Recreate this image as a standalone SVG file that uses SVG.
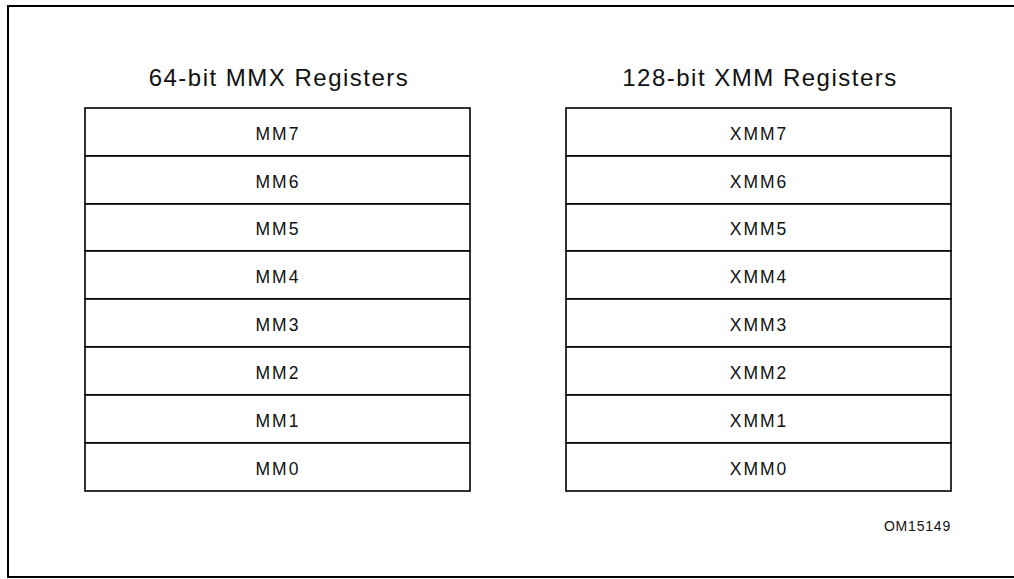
<svg xmlns="http://www.w3.org/2000/svg" width="1014" height="579" viewBox="0 0 1014 579">
<style>
.frame{fill:none;stroke:#000;stroke-width:2}
.reg{fill:#fff;stroke:#000;stroke-width:1.6}
.title{font-family:"Liberation Sans",Arial,sans-serif;font-size:24px;letter-spacing:1.5px;fill:#111;text-anchor:middle}
.lbl{font-family:"Liberation Sans",Arial,sans-serif;font-size:17.5px;letter-spacing:2px;fill:#111;text-anchor:middle}
.id{font-family:"Liberation Sans",Arial,sans-serif;font-size:14px;letter-spacing:0.8px;fill:#111;text-anchor:end}
</style>
<rect width="1014" height="579" fill="#fff"/>
<path class="frame" d="M1014,6 H8 V577 H1014"/>
<g id="mmx">
<text class="title" x="279" y="86">64-bit MMX Registers</text>
<g id="mm7"><rect class="reg" x="85" y="108" width="385" height="48"/><text class="lbl" x="278" y="140">MM7</text></g>
<g id="mm6"><rect class="reg" x="85" y="156" width="385" height="48"/><text class="lbl" x="278" y="188">MM6</text></g>
<g id="mm5"><rect class="reg" x="85" y="204" width="385" height="47"/><text class="lbl" x="278" y="235">MM5</text></g>
<g id="mm4"><rect class="reg" x="85" y="251" width="385" height="48"/><text class="lbl" x="278" y="283">MM4</text></g>
<g id="mm3"><rect class="reg" x="85" y="299" width="385" height="48"/><text class="lbl" x="278" y="331">MM3</text></g>
<g id="mm2"><rect class="reg" x="85" y="347" width="385" height="48"/><text class="lbl" x="278" y="379">MM2</text></g>
<g id="mm1"><rect class="reg" x="85" y="395" width="385" height="48"/><text class="lbl" x="278" y="427">MM1</text></g>
<g id="mm0"><rect class="reg" x="85" y="443" width="385" height="48"/><text class="lbl" x="278" y="475">MM0</text></g>
</g>
<g id="xmm">
<text class="title" x="760" y="86">128-bit XMM Registers</text>
<g id="xmm7"><rect class="reg" x="566" y="108" width="385" height="48"/><text class="lbl" x="759" y="140">XMM7</text></g>
<g id="xmm6"><rect class="reg" x="566" y="156" width="385" height="48"/><text class="lbl" x="759" y="188">XMM6</text></g>
<g id="xmm5"><rect class="reg" x="566" y="204" width="385" height="47"/><text class="lbl" x="759" y="235">XMM5</text></g>
<g id="xmm4"><rect class="reg" x="566" y="251" width="385" height="48"/><text class="lbl" x="759" y="283">XMM4</text></g>
<g id="xmm3"><rect class="reg" x="566" y="299" width="385" height="48"/><text class="lbl" x="759" y="331">XMM3</text></g>
<g id="xmm2"><rect class="reg" x="566" y="347" width="385" height="48"/><text class="lbl" x="759" y="379">XMM2</text></g>
<g id="xmm1"><rect class="reg" x="566" y="395" width="385" height="48"/><text class="lbl" x="759" y="427">XMM1</text></g>
<g id="xmm0"><rect class="reg" x="566" y="443" width="385" height="48"/><text class="lbl" x="759" y="475">XMM0</text></g>
</g>
<g id="connectors"/>
<text class="id" x="951" y="531">OM15149</text>
</svg>
